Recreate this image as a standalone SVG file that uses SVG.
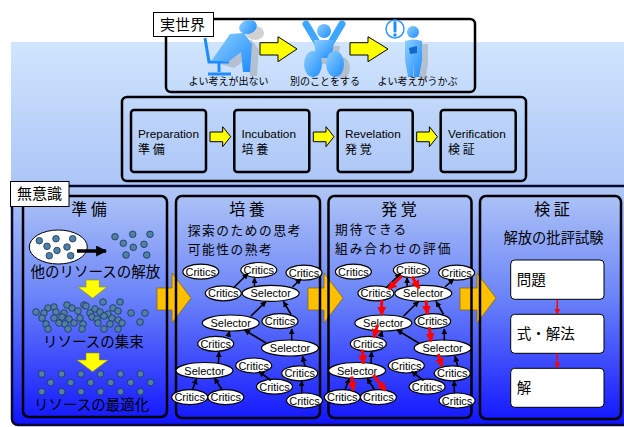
<svg xmlns="http://www.w3.org/2000/svg" width="624" height="427" viewBox="0 0 624 427">
  <defs>
    <linearGradient id="gTop" x1="0" y1="42" x2="0" y2="186" gradientUnits="userSpaceOnUse">
      <stop offset="0" stop-color="#d0e5fd"/>
      <stop offset="1" stop-color="#abc5f7"/>
    </linearGradient>
    <linearGradient id="gLow" x1="0" y1="186" x2="0" y2="425" gradientUnits="userSpaceOnUse">
      <stop offset="0" stop-color="#b2c8f6"/>
      <stop offset="0.45" stop-color="#6d86f8"/>
      <stop offset="1" stop-color="#1014ff"/>
    </linearGradient>
    <linearGradient id="gFig" x1="0" y1="0" x2="1" y2="1">
      <stop offset="0" stop-color="#8fd0ff"/>
      <stop offset="1" stop-color="#1e8cff"/>
    </linearGradient>
    <marker id="ah" viewBox="0 0 10 10" refX="9" refY="5" markerWidth="6" markerHeight="6" orient="auto" markerUnits="userSpaceOnUse">
      <path d="M0,0 L10,5 L0,10 Z" fill="#000"/>
    </marker>
    <marker id="ahBig" viewBox="0 0 10 10" refX="9" refY="5" markerWidth="12" markerHeight="11" orient="auto" markerUnits="userSpaceOnUse">
      <path d="M0,0 L10,5 L0,10 Z" fill="#000"/>
    </marker>
    <marker id="ahRed" viewBox="0 0 10 10" refX="9" refY="5" markerWidth="9" markerHeight="9" orient="auto" markerUnits="userSpaceOnUse">
      <path d="M0,0 L10,5 L0,10 Z" fill="#ff0000"/>
    </marker>
    <marker id="ahRedS" viewBox="0 0 10 10" refX="9" refY="5" markerWidth="6" markerHeight="6" orient="auto" markerUnits="userSpaceOnUse">
      <path d="M0,0 L10,5 L0,10 Z" fill="#ff0000"/>
    </marker>
    <style>
      .jp { font-family: "Noto Sans CJK JP", "Noto Sans", sans-serif; fill: #000; }
      .en { font-family: "Liberation Sans", Arial, sans-serif; fill: #000; }
      .frame { fill: none; stroke: #000; stroke-width: 2.5; }
      .label { fill: #fff; stroke: #000; stroke-width: 1; }
      .yArrow { fill: #ffff00; stroke: #000; stroke-width: 1; stroke-linejoin: miter; }
      .gArrow { fill: #ffc000; stroke: #8a6a00; stroke-width: 0.8; }
      .crit ellipse, .sel ellipse { fill: #fff; stroke: #000; stroke-width: 1.2; }
      .crit text, .sel text { font-family: "Liberation Sans", Arial, sans-serif; font-size: 11px; text-anchor: middle; fill: #000; }
      .edge { stroke: #000; stroke-width: 1.6; fill: none; marker-end: url(#ah); }
      .redge { stroke: #ff0000; stroke-width: 3; fill: none; marker-end: url(#ahRed); }
      .dot { fill: #4f80a8; stroke: #1c3350; stroke-width: 0.8; }
      .step { fill: #fff; stroke: #000; stroke-width: 1; }
      .fig { fill: url(#gFig); }
      .shadow { fill: #9a9a9a; opacity: 0.45; }
    </style>
  </defs>

  <!-- page background -->
  <rect x="0" y="0" width="624" height="427" fill="#fff"/>
  <rect x="11" y="42" width="613" height="145" fill="url(#gTop)"/>

  <!-- real world strip -->
  <g id="realWorld">
    <rect x="166" y="19" width="309" height="73" rx="5" class="frame"/>
    <!-- figure 1: slumped at the desk -->
    <g id="figStuck">
      <path class="shadow" d="M220,64 L238,40 L252,40 L259,50 L257,76 L250,76 L248,58 L234,68 Z"/>
      <ellipse class="shadow" cx="255" cy="33" rx="9" ry="7"/>
      <path d="M205,38 L209,62 L229,62 M219,62 L219,72 M208,74 L231,74" fill="none" stroke="#1e8cff" stroke-width="3"/>
      <path class="fig" d="M212,60 L230,34 L244,33 L252,44 L250,72 L243,72 L241,52 L228,62 Z"/>
      <ellipse class="fig" cx="248" cy="27" rx="9" ry="7" transform="rotate(-20 248 27)"/>
    </g>
    <polygon class="yArrow" points="260,42.7 278,42.7 278,36.7 297,49 278,61.7 278,55 260,55"/>
    <!-- figure 2: leaning back -->
    <g id="figRest">
      <path class="shadow" d="M318,46 L340,46 L338,64 L322,64 Z"/>
      <ellipse class="shadow" cx="342" cy="68" rx="8" ry="11"/>
      <path d="M306,24 L318,44 L330,44 L342,24" fill="none" stroke="#3fa6ff" stroke-width="7" stroke-linecap="round" stroke-linejoin="round"/>
      <circle class="fig" cx="324" cy="31" r="7"/>
      <path class="fig" d="M314,40 L334,40 L332,58 L316,58 Z"/>
      <ellipse class="fig" cx="313" cy="64" rx="9" ry="13"/>
      <ellipse class="fig" cx="335" cy="64" rx="9" ry="13"/>
    </g>
    <polygon class="yArrow" points="350,42.7 368,42.7 368,36.7 388,49 368,61.7 368,55 350,55"/>
    <!-- figure 3: idea -->
    <g id="figIdea">
      <path class="shadow" d="M411,44 L428,44 L428,64 L425,80 L419,80 L418,66 L416,80 L411,80 L410,64 Z"/>
      <circle class="fig" cx="413" cy="32" r="6"/>
      <path class="fig" d="M405,41 Q413,38 422,41 L422,60 L419,77 L414,77 L413.5,62 L413,77 L408,77 L405,60 Z"/>
      <path d="M409,48 L417,46 L417,53 L410,54 Z" fill="#1466c8"/>
      <circle cx="395" cy="29" r="9" fill="#fff" stroke="#3399ff" stroke-width="1.5"/>
      <path d="M395,22.5 L395,31" stroke="#1e8cff" stroke-width="3" stroke-linecap="round"/>
      <circle cx="395" cy="35" r="1.7" fill="#1e8cff"/>
    </g>
    <text class="jp" x="228.5" y="85" font-size="10" text-anchor="middle">よい考えが出ない</text>
    <text class="jp" x="325" y="85" font-size="10" text-anchor="middle">別のことをする</text>
    <text class="jp" x="417.5" y="85" font-size="10" text-anchor="middle">よい考えがうかぶ</text>
    <rect x="153.5" y="12.5" width="60" height="24" class="label"/>
    <text class="jp" x="160" y="30" font-size="15">実世界</text>
  </g>

  <!-- four stages -->
  <g id="stages">
    <rect x="122" y="97" width="404" height="84" rx="5" class="frame"/>
    <g id="stagePrep">
      <rect x="131" y="110" width="75" height="62" rx="3" class="frame"/>
      <text class="en" x="138" y="138" font-size="11.8">Preparation</text>
      <text class="jp" x="138" y="154" font-size="12">準 備</text>
    </g>
    <g id="stageIncu">
      <rect x="234.3" y="110" width="75" height="62" rx="3" class="frame"/>
      <text class="en" x="241.5" y="138" font-size="11.8">Incubation</text>
      <text class="jp" x="241.5" y="154" font-size="12">培 養</text>
    </g>
    <g id="stageReve">
      <rect x="337.7" y="110" width="75" height="62" rx="3" class="frame"/>
      <text class="en" x="345" y="138" font-size="11.8">Revelation</text>
      <text class="jp" x="345" y="154" font-size="12">発 覚</text>
    </g>
    <g id="stageVeri">
      <rect x="440.7" y="110" width="75" height="62" rx="3" class="frame"/>
      <text class="en" x="448" y="138" font-size="11.8">Verification</text>
      <text class="jp" x="448" y="154" font-size="12">検 証</text>
    </g>
    <polygon class="yArrow" points="210,132 222.7,132 222.7,126.7 230.7,136.7 222.7,146.7 222.7,141.7 210,141.7"/>
    <polygon class="yArrow" points="313.3,132 326,132 326,126.7 334,136.7 326,146.7 326,141.7 313.3,141.7"/>
    <polygon class="yArrow" points="416.7,132 429.4,132 429.4,126.7 437.4,136.7 429.4,146.7 429.4,141.7 416.7,141.7"/>
  </g>

  <!-- unconscious area -->
  <rect x="12" y="186" width="622" height="239" rx="6" fill="url(#gLow)" stroke="#0a0a30" stroke-width="2.5"/>

  <!-- big arrows between the panels -->
  <polygon class="gArrow" points="157,288 172,288 172,273 191,298 172,323 172,310 157,310"/>
  <polygon class="gArrow" points="308,288 324,288 324,273 343,298 324,323 324,310 308,310"/>
  <polygon class="gArrow" points="460,288 477,288 477,273 496,298 477,323 477,310 460,310"/>

  <g id="panelPrep">
    <rect x="23" y="196" width="144" height="221" rx="6" class="frame"/>
    <text class="jp" x="89" y="215" font-size="16" text-anchor="middle">準 備</text>
    <ellipse cx="58.3" cy="247" rx="29" ry="17" fill="#fff" stroke="#000" stroke-width="1"/>
    <g id="dotsLoose">
      <circle class="dot" cx="39.3" cy="240.7" r="3.3"/>
      <circle class="dot" cx="56" cy="238.7" r="3.3"/>
      <circle class="dot" cx="72.7" cy="238.7" r="3.3"/>
      <circle class="dot" cx="47" cy="246.3" r="3.3"/>
      <circle class="dot" cx="57" cy="250.5" r="3.3"/>
      <circle class="dot" cx="67" cy="247" r="3.3"/>
      <circle class="dot" cx="49.3" cy="255.7" r="3.3"/>
      <circle class="dot" cx="70.7" cy="255.7" r="3.3"/>
      <circle class="dot" cx="115" cy="236.7" r="3.3"/>
      <circle class="dot" cx="132.7" cy="234.3" r="3.3"/>
      <circle class="dot" cx="150" cy="234.3" r="3.3"/>
      <circle class="dot" cx="123.3" cy="243.3" r="3.3"/>
      <circle class="dot" cx="133.3" cy="247.3" r="3.3"/>
      <circle class="dot" cx="144" cy="244.3" r="3.3"/>
      <circle class="dot" cx="126" cy="255" r="3.3"/>
      <circle class="dot" cx="146.7" cy="255" r="3.3"/>
    </g>
    <path d="M77,251 L106,251" stroke="#000" stroke-width="3.5" marker-end="url(#ahBig)"/>
    <text class="jp" x="30.5" y="277" font-size="14.5">他のリソースの解放</text>
    <polygon points="86,280 99.3,280 99.3,287 107,287 92.6,298.3 78,287 86,287" fill="#ffff00" stroke="#8a8a00" stroke-width="0.6"/>
    <g id="dotsGathered">
      <circle class="dot" cx="103" cy="302" r="3.3"/>
      <circle class="dot" cx="120" cy="302" r="3.3"/>
      <circle class="dot" cx="67" cy="305" r="3.3"/>
      <circle class="dot" cx="84" cy="305" r="3.3"/>
      <circle class="dot" cx="48" cy="308" r="3.3"/>
      <circle class="dot" cx="54" cy="307" r="3.3"/>
      <circle class="dot" cx="72" cy="308" r="3.3"/>
      <circle class="dot" cx="86" cy="306" r="3.3"/>
      <circle class="dot" cx="95" cy="309" r="3.3"/>
      <circle class="dot" cx="113" cy="308" r="3.3"/>
      <circle class="dot" cx="36" cy="312" r="3.3"/>
      <circle class="dot" cx="44" cy="313" r="3.3"/>
      <circle class="dot" cx="56" cy="312" r="3.3"/>
      <circle class="dot" cx="64" cy="313" r="3.3"/>
      <circle class="dot" cx="78" cy="311" r="3.3"/>
      <circle class="dot" cx="90" cy="313" r="3.3"/>
      <circle class="dot" cx="100" cy="312" r="3.3"/>
      <circle class="dot" cx="108" cy="314" r="3.3"/>
      <circle class="dot" cx="118" cy="311" r="3.3"/>
      <circle class="dot" cx="131" cy="313" r="3.3"/>
      <circle class="dot" cx="145" cy="313" r="3.3"/>
      <circle class="dot" cx="42" cy="318" r="3.3"/>
      <circle class="dot" cx="54" cy="318" r="3.3"/>
      <circle class="dot" cx="62" cy="317" r="3.3"/>
      <circle class="dot" cx="69" cy="319" r="3.3"/>
      <circle class="dot" cx="80" cy="318" r="3.3"/>
      <circle class="dot" cx="92" cy="317" r="3.3"/>
      <circle class="dot" cx="97" cy="319" r="3.3"/>
      <circle class="dot" cx="104" cy="316" r="3.3"/>
      <circle class="dot" cx="112" cy="318" r="3.3"/>
      <circle class="dot" cx="118" cy="320" r="3.3"/>
      <circle class="dot" cx="46" cy="324" r="3.3"/>
      <circle class="dot" cx="59" cy="323" r="3.3"/>
      <circle class="dot" cx="65" cy="324" r="3.3"/>
      <circle class="dot" cx="74" cy="323" r="3.3"/>
      <circle class="dot" cx="83" cy="324" r="3.3"/>
      <circle class="dot" cx="98" cy="323" r="3.3"/>
      <circle class="dot" cx="110" cy="324" r="3.3"/>
      <circle class="dot" cx="122" cy="323" r="3.3"/>
      <circle class="dot" cx="140" cy="322" r="3.3"/>
      <circle class="dot" cx="48" cy="329" r="3.3"/>
      <circle class="dot" cx="68" cy="329" r="3.3"/>
      <circle class="dot" cx="82" cy="329" r="3.3"/>
      <circle class="dot" cx="104" cy="329" r="3.3"/>
      <circle class="dot" cx="118" cy="329" r="3.3"/>
    </g>
    <text class="jp" x="43" y="347" font-size="14.5">リソースの集束</text>
    <polygon points="86,353 99.3,353 99.3,360 108,360 92.6,371.7 77,360 86,360" fill="#ffff00" stroke="#8a8a00" stroke-width="0.6"/>
    <g id="dotsOptimal">
      <circle class="dot" cx="41.7" cy="374" r="3.3"/>
      <circle class="dot" cx="61.7" cy="374" r="3.3"/>
      <circle class="dot" cx="81" cy="374" r="3.3"/>
      <circle class="dot" cx="100.5" cy="374" r="3.3"/>
      <circle class="dot" cx="120.5" cy="374" r="3.3"/>
      <circle class="dot" cx="140.5" cy="374" r="3.3"/>
      <circle class="dot" cx="50.7" cy="382.5" r="3.3"/>
      <circle class="dot" cx="70.7" cy="382.5" r="3.3"/>
      <circle class="dot" cx="90.7" cy="382.5" r="3.3"/>
      <circle class="dot" cx="110.7" cy="382.5" r="3.3"/>
      <circle class="dot" cx="130.7" cy="382.5" r="3.3"/>
      <circle class="dot" cx="150.7" cy="382.5" r="3.3"/>
      <circle class="dot" cx="41.7" cy="391.7" r="3.3"/>
      <circle class="dot" cx="61.7" cy="391.7" r="3.3"/>
      <circle class="dot" cx="81" cy="391.7" r="3.3"/>
      <circle class="dot" cx="100.5" cy="391.7" r="3.3"/>
      <circle class="dot" cx="120.5" cy="391.7" r="3.3"/>
      <circle class="dot" cx="140.5" cy="391.7" r="3.3"/>
    </g>
    <text class="jp" x="34" y="410" font-size="14.5">リソースの最適化</text>
  </g>

  <g id="panelIncu">
    <rect x="176" y="196" width="144" height="222" rx="6" class="frame"/>
    <text class="jp" x="247" y="215" font-size="16" text-anchor="middle">培 養</text>
    <text class="jp" x="187.7" y="235" font-size="12.7" letter-spacing="1.6">探索のための思考</text>
    <text class="jp" x="187.7" y="253.6" font-size="12.7" letter-spacing="1.6">可能性の熟考</text>
  </g>
  <g id="panelReve">
    <rect x="328.5" y="196" width="143" height="222" rx="6" class="frame"/>
    <text class="jp" x="399" y="215" font-size="16" text-anchor="middle">発 覚</text>
    <text class="jp" x="335" y="234.4" font-size="12.7" letter-spacing="2">期待できる</text>
    <text class="jp" x="335" y="253" font-size="12.7" letter-spacing="2">組み合わせの評価</text>
  </g>
  <g id="panelVeri">
    <rect x="480" y="196" width="141" height="223" rx="6" class="frame"/>
    <text class="jp" x="552" y="215" font-size="16" text-anchor="middle">検 証</text>
    <text class="jp" x="553.5" y="243.3" font-size="14.3" text-anchor="middle">解放の批評試験</text>
  </g>

  <!-- incubation network nodes -->
  <g id="i1" class="crit"><ellipse cx="200.8" cy="271.7" rx="18" ry="7.5"/><text x="200.8" y="275.7">Critics</text></g>
  <g id="i2" class="crit"><ellipse cx="258.8" cy="270" rx="18" ry="7.5"/><text x="258.8" y="274">Critics</text></g>
  <g id="i3" class="crit"><ellipse cx="304" cy="272.7" rx="18" ry="7.5"/><text x="304" y="276.7">Critics</text></g>
  <g id="i4" class="crit"><ellipse cx="223.3" cy="293.3" rx="18" ry="7.5"/><text x="223.3" y="297.3">Critics</text></g>
  <g id="i5" class="sel"><ellipse cx="270.7" cy="293.3" rx="28.5" ry="8"/><text x="270.7" y="297.3">Selector</text></g>
  <g id="i6" class="sel"><ellipse cx="230.7" cy="323" rx="28.5" ry="8"/><text x="230.7" y="327">Selector</text></g>
  <g id="i7" class="crit"><ellipse cx="280" cy="321.2" rx="18" ry="7.5"/><text x="280" y="325.2">Critics</text></g>
  <g id="i8" class="crit"><ellipse cx="215.7" cy="343.8" rx="18" ry="7.5"/><text x="215.7" y="347.8">Critics</text></g>
  <g id="i9" class="sel"><ellipse cx="290" cy="348" rx="28.5" ry="8"/><text x="290" y="352">Selector</text></g>
  <g id="i10" class="sel"><ellipse cx="204.5" cy="370.5" rx="28.5" ry="8"/><text x="204.5" y="374.5">Selector</text></g>
  <g id="i11" class="crit"><ellipse cx="253.7" cy="365.5" rx="18" ry="7.5"/><text x="253.7" y="369.5">Critics</text></g>
  <g id="i12" class="crit"><ellipse cx="299.7" cy="373.3" rx="18" ry="7.5"/><text x="299.7" y="377.3">Critics</text></g>
  <g id="i13" class="crit"><ellipse cx="274.5" cy="386.7" rx="18" ry="7.5"/><text x="274.5" y="390.7">Critics</text></g>
  <g id="i14" class="crit"><ellipse cx="189.7" cy="397.2" rx="18" ry="7.5"/><text x="189.7" y="401.2">Critics</text></g>
  <g id="i15" class="crit"><ellipse cx="225.8" cy="397.2" rx="18" ry="7.5"/><text x="225.8" y="401.2">Critics</text></g>
  <g id="i16" class="crit"><ellipse cx="304.5" cy="400.5" rx="18" ry="7.5"/><text x="304.5" y="404.5">Critics</text></g>

  <!-- revelation network nodes -->
  <g id="r1" class="crit"><ellipse cx="353.4" cy="271.7" rx="18" ry="7.5"/><text x="353.4" y="275.7">Critics</text></g>
  <g id="r2" class="crit"><ellipse cx="411.4" cy="270" rx="18" ry="7.5"/><text x="411.4" y="274">Critics</text></g>
  <g id="r3" class="crit"><ellipse cx="456.6" cy="272.7" rx="18" ry="7.5"/><text x="456.6" y="276.7">Critics</text></g>
  <g id="r4" class="crit"><ellipse cx="375.9" cy="293.3" rx="18" ry="7.5"/><text x="375.9" y="297.3">Critics</text></g>
  <g id="r5" class="sel"><ellipse cx="423.3" cy="293.3" rx="28.5" ry="8"/><text x="423.3" y="297.3">Selector</text></g>
  <g id="r6" class="sel"><ellipse cx="383.3" cy="323" rx="28.5" ry="8"/><text x="383.3" y="327">Selector</text></g>
  <g id="r7" class="crit"><ellipse cx="432.6" cy="321.2" rx="18" ry="7.5"/><text x="432.6" y="325.2">Critics</text></g>
  <g id="r8" class="crit"><ellipse cx="368.3" cy="343.8" rx="18" ry="7.5"/><text x="368.3" y="347.8">Critics</text></g>
  <g id="r9" class="sel"><ellipse cx="442.6" cy="348" rx="28.5" ry="8"/><text x="442.6" y="352">Selector</text></g>
  <g id="r10" class="sel"><ellipse cx="357.1" cy="370.5" rx="28.5" ry="8"/><text x="357.1" y="374.5">Selector</text></g>
  <g id="r11" class="crit"><ellipse cx="406.3" cy="365.5" rx="18" ry="7.5"/><text x="406.3" y="369.5">Critics</text></g>
  <g id="r12" class="crit"><ellipse cx="452.3" cy="373.3" rx="18" ry="7.5"/><text x="452.3" y="377.3">Critics</text></g>
  <g id="r13" class="crit"><ellipse cx="427.1" cy="386.7" rx="18" ry="7.5"/><text x="427.1" y="390.7">Critics</text></g>
  <g id="r14" class="crit"><ellipse cx="342.3" cy="397.2" rx="18" ry="7.5"/><text x="342.3" y="401.2">Critics</text></g>
  <g id="r15" class="crit"><ellipse cx="378.4" cy="397.2" rx="18" ry="7.5"/><text x="378.4" y="401.2">Critics</text></g>
  <g id="r16" class="crit"><ellipse cx="457.1" cy="400.5" rx="18" ry="7.5"/><text x="457.1" y="404.5">Critics</text></g>

  <!-- verification steps -->
  <g id="vProblem"><rect x="510.7" y="260" width="93.3" height="39.3" rx="4" class="step"/><text class="jp" x="516.7" y="285" font-size="14.5">問題</text></g>
  <g id="vMethod"><rect x="510.7" y="314.3" width="93.3" height="39" rx="4" class="step"/><text class="jp" x="516.7" y="339.3" font-size="14.5">式・解法</text></g>
  <g id="vAnswer"><rect x="510.7" y="368.3" width="93.3" height="39" rx="4" class="step"/><text class="jp" x="516.7" y="393.3" font-size="14.5">解</text></g>

  <!-- connectors -->
  <g id="connectors">
    <!-- incubation -->
    <line class="edge" x1="233.3" y1="288" x2="248" y2="273.5"/>
    <line class="edge" x1="254.5" y1="286" x2="254.5" y2="277.8"/>
    <line class="edge" x1="292.5" y1="287" x2="301" y2="279"/>
    <line class="edge" x1="251" y1="316" x2="266" y2="301.5"/>
    <line class="edge" x1="291" y1="314.5" x2="283.5" y2="301.5"/>
    <line class="edge" x1="228" y1="337" x2="229.5" y2="331.2"/>
    <line class="edge" x1="266" y1="343" x2="244.5" y2="330"/>
    <line class="edge" x1="291.7" y1="340.5" x2="291.7" y2="329"/>
    <line class="edge" x1="218.5" y1="363" x2="219" y2="351.8"/>
    <line class="edge" x1="192.5" y1="389.8" x2="196.5" y2="378.8"/>
    <line class="edge" x1="222" y1="389.8" x2="214.5" y2="378.3"/>
    <line class="edge" x1="271" y1="380.5" x2="259" y2="371.5"/>
    <line class="edge" x1="305" y1="366" x2="302.5" y2="356.3"/>
    <line class="edge" x1="301.7" y1="393" x2="301.7" y2="381"/>
    <!-- revelation, black -->
    <line class="edge" x1="385.9" y1="288" x2="400.6" y2="273.5"/>
    <line class="edge" x1="407.1" y1="286" x2="407.1" y2="277.8"/>
    <line class="edge" x1="445.1" y1="287" x2="453.6" y2="279"/>
    <line class="edge" x1="403.6" y1="316" x2="418.6" y2="301.5"/>
    <line class="edge" x1="443.6" y1="314.5" x2="436.1" y2="301.5"/>
    <line class="edge" x1="380.6" y1="337" x2="382.1" y2="331.2"/>
    <line class="edge" x1="418.6" y1="343" x2="397.1" y2="330"/>
    <line class="edge" x1="444.3" y1="340.5" x2="444.3" y2="329"/>
    <line class="edge" x1="371.1" y1="363" x2="371.6" y2="351.8"/>
    <line class="edge" x1="345.1" y1="389.8" x2="349.1" y2="378.8"/>
    <line class="edge" x1="374.6" y1="389.8" x2="367.1" y2="378.3"/>
    <line class="edge" x1="423.6" y1="380.5" x2="411.6" y2="371.5"/>
    <line class="edge" x1="457.6" y1="366" x2="455.1" y2="356.3"/>
    <line class="edge" x1="454.3" y1="393" x2="454.3" y2="381"/>
    <!-- revelation, selected path -->
    <line class="redge" x1="401.7" y1="276" x2="388.5" y2="289"/>
    <line class="redge" x1="412" y1="276.5" x2="419" y2="288.5"/>
    <line class="redge" x1="381.7" y1="300" x2="381.7" y2="315"/>
    <line class="redge" x1="426" y1="300.5" x2="427.3" y2="314"/>
    <line class="redge" x1="377.5" y1="325" x2="374" y2="337.3"/>
    <line class="redge" x1="429.3" y1="327" x2="431" y2="341.5"/>
    <line class="redge" x1="362.3" y1="349.5" x2="363.3" y2="363.5"/>
    <line class="redge" x1="438.3" y1="354" x2="441.7" y2="366.5"/>
    <line class="redge" x1="351.7" y1="376.5" x2="353.3" y2="390.5"/>
    <line class="redge" x1="373.3" y1="375" x2="385.7" y2="390.5"/>
    <!-- verification -->
    <line x1="557.3" y1="299.5" x2="557.3" y2="314" stroke="#ff0000" stroke-width="1.5" marker-end="url(#ahRedS)"/>
    <line x1="557.3" y1="353.5" x2="557.3" y2="368" stroke="#ff0000" stroke-width="1.5" marker-end="url(#ahRedS)"/>
  </g>

  <!-- unconscious label -->
  <rect x="10.5" y="181.5" width="58.5" height="25" class="label"/>
  <text class="jp" x="17" y="199" font-size="15">無意識</text>
</svg>
